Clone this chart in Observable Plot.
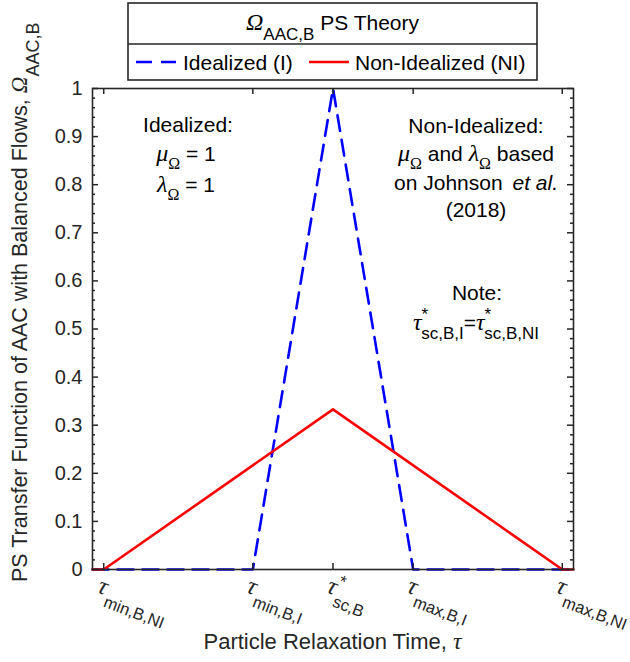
<!DOCTYPE html>
<html><head><meta charset="utf-8">
<script src="https://cdn.jsdelivr.net/npm/d3@7"></script>
<script src="https://cdn.jsdelivr.net/npm/@observablehq/plot@0.6"></script>
<style>html,body{margin:0;padding:0;background:#fff} svg{display:block}</style>
</head><body><div id="chart"></div>
<script>
// ---- data ----
const tauIdealized = [-3, -1, 0, 1, 3];
const omegaIdealized = [0, 0, 1, 0, 0];
const tauNonIdealized = [-3, -2.86, 0, 2.86, 3];
const omegaNonIdealized = [0, 0, 0.333, 0, 0];
const xTickValues = [-2.86, -1, 0, 1, 2.86];
const xTickSubs = ["min,B,NI", "min,B,I", "sc,B", "max,B,I", "max,B,NI"];
const xTickStar = [false, false, true, false, false];
const yTickValues = [0, 0.1, 0.2, 0.3, 0.4, 0.5, 0.6, 0.7, 0.8, 0.9, 1];
const yTickLabels = ["0", "0.1", "0.2", "0.3", "0.4", "0.5", "0.6", "0.7", "0.8", "0.9", "1"];
const yMinorTicks = d3.range(0, 1.0001, 0.02).filter(v => Math.abs(v * 10 - Math.round(v * 10)) > 1e-6);

const idealized = tauIdealized.map((t, i) => ({tau: t, omega: omegaIdealized[i]}));
const nonIdealized = tauNonIdealized.map((t, i) => ({tau: t, omega: omegaNonIdealized[i]}));

const W = 630, H = 662, ML = 92, MR = 57, MT = 88, MB = 93;
const PW = W - ML - MR, PH = H - MT - MB;
const AX = "#262626";
const SANS = "'Liberation Sans', Arial, Helvetica, sans-serif";
const SERIF = "'Liberation Serif', 'Times New Roman', serif";

const chart = Plot.plot({
  width: W, height: H,
  marginLeft: ML, marginRight: MR, marginTop: MT, marginBottom: MB,
  x: {domain: [-3, 3], axis: null},
  y: {domain: [0, 1], axis: null},
  style: {fontFamily: SANS, background: "#fff", color: AX, overflow: "visible"},
  marks: [
    Plot.line(idealized, {x: "tau", y: "omega", stroke: "#0000ff", strokeWidth: 2.6, strokeDasharray: "16,9"}),
    Plot.line(nonIdealized, {x: "tau", y: "omega", stroke: "#ff0000", strokeWidth: 2.6}),
    Plot.tickY(yMinorTicks, {y: d => d, stroke: AX, strokeWidth: 1.5, insetRight: PW - 3}),
    Plot.tickY(yMinorTicks, {y: d => d, stroke: AX, strokeWidth: 1.5, insetLeft: PW - 3}),
    Plot.tickY(yTickValues, {y: d => d, stroke: AX, strokeWidth: 1.5, insetRight: PW - 6}),
    Plot.tickY(yTickValues, {y: d => d, stroke: AX, strokeWidth: 1.5, insetLeft: PW - 6}),
    Plot.tickX(xTickValues, {x: d => d, stroke: AX, strokeWidth: 1.5, insetTop: PH - 6}),
    Plot.tickX(xTickValues, {x: d => d, stroke: AX, strokeWidth: 1.5, insetBottom: PH - 6}),
    Plot.frame({stroke: AX, strokeWidth: 1.6}),
    Plot.axisY(yTickValues, {tickSize: 0, tickPadding: 10, fontSize: 20, fill: AX, label: null,
      tickFormat: d => yTickLabels[yTickValues.indexOf(d)]})
  ]
});
document.getElementById("chart").append(chart);
const svg = d3.select(chart);
const sx = chart.scale("x");

function span(t, s, o) {
  const e = t.append("tspan").text(s)
    .attr("font-family", o.serif ? SERIF : SANS)
    .attr("font-size", o.size);
  if (o.italic) e.attr("font-style", "italic");
  if (o.dx) e.attr("dx", o.dx);
  if (o.dy) e.attr("dy", o.dy);
  return e;
}

// x tick labels (rotated 20 degrees clockwise)
xTickValues.forEach((v, i) => {
  const px = sx.apply(v);
  const g = svg.append("g").attr("transform", `translate(${px - 7},592)`);
  const t = g.append("text").attr("fill", AX).attr("text-anchor", "start")
    .attr("transform", "rotate(21)");
  span(t, "τ", {serif: true, italic: true, size: 25});
  if (xTickStar[i]) {
    span(t, "*", {size: 17, dy: -10});
    span(t, xTickSubs[i], {size: 16.5, dx: -5, dy: 21});
  } else {
    span(t, xTickSubs[i], {size: 16.5, dx: 2, dy: 11});
  }
});

// axis labels
{
  const t = svg.append("text").attr("fill", AX).attr("text-anchor", "middle")
    .attr("x", ML + PW / 2).attr("y", 649);
  span(t, "Particle Relaxation Time, ", {size: 22});
  span(t, "τ", {serif: true, italic: true, size: 24});
}
{
  const t = svg.append("text").attr("fill", AX).attr("text-anchor", "start")
    .attr("transform", "translate(27,582) rotate(-90)");
  span(t, "PS Transfer Function of AAC with Balanced Flows, ", {size: 21.5});
  span(t, "Ω", {serif: true, italic: true, size: 23});
  span(t, "AAC,B", {size: 18, dy: 12});
}

// legend
{
  const g = svg.append("g");
  g.append("rect").attr("x", 128).attr("y", 3).attr("width", 409).attr("height", 77)
    .attr("fill", "#fff").attr("stroke", AX).attr("stroke-width", 1.6);
  g.append("line").attr("x1", 128).attr("x2", 537).attr("y1", 44).attr("y2", 44)
    .attr("stroke", AX).attr("stroke-width", 1.6);
  const t = g.append("text").attr("fill", "#000").attr("text-anchor", "middle")
    .attr("x", 332.5).attr("y", 30);
  span(t, "Ω", {serif: true, italic: true, size: 24});
  span(t, "AAC,B", {size: 17, dy: 10});
  span(t, " PS Theory", {size: 21, dy: -10});
  g.append("line").attr("x1", 136).attr("x2", 176).attr("y1", 62).attr("y2", 62)
    .attr("stroke", "#0000ff").attr("stroke-width", 2.6).attr("stroke-dasharray", "16,9");
  g.append("text").attr("x", 183).attr("y", 69.5).attr("font-family", SANS).attr("font-size", 21)
    .attr("text-anchor", "start").attr("fill", "#000").text("Idealized (I)");
  g.append("line").attr("x1", 309).attr("x2", 349).attr("y1", 62).attr("y2", 62)
    .attr("stroke", "#ff0000").attr("stroke-width", 2.6);
  g.append("text").attr("x", 355).attr("y", 69.5).attr("font-family", SANS).attr("font-size", 21)
    .attr("text-anchor", "start").attr("fill", "#000").text("Non-Idealized (NI)");
}

// annotations
function line(x, y) {
  return svg.append("text").attr("fill", "#000").attr("text-anchor", "middle")
    .attr("x", x).attr("y", y).attr("font-family", SANS).attr("font-size", 21);
}
{
  span(line(188, 132), "Idealized:", {size: 21});
  let t = line(186, 161);
  span(t, "μ", {serif: true, italic: true, size: 24});
  span(t, "Ω", {serif: true, size: 16, dy: 8});
  span(t, " = 1", {size: 21, dy: -8});
  t = line(186, 192);
  span(t, "λ", {serif: true, italic: true, size: 24});
  span(t, "Ω", {serif: true, size: 16, dy: 8});
  span(t, " = 1", {size: 21, dy: -8});

  span(line(476, 133), "Non-Idealized:", {size: 21});
  t = line(476, 161);
  span(t, "μ", {serif: true, italic: true, size: 24});
  span(t, "Ω", {serif: true, size: 16, dy: 8});
  span(t, " and ", {size: 21, dy: -8});
  span(t, "λ", {serif: true, italic: true, size: 24});
  span(t, "Ω", {serif: true, size: 16, dy: 8});
  span(t, " based", {size: 21, dy: -8});
  t = line(476, 190);
  span(t, "on Johnson ", {size: 21});
  span(t, "et al.", {size: 21, italic: true, dx: 4});
  span(line(476, 217), "(2018)", {size: 21});

  span(line(477, 300), "Note:", {size: 21});
  t = line(476, 330);
  span(t, "τ", {serif: true, italic: true, size: 24});
  span(t, "*", {size: 17, dy: -10});
  span(t, "sc,B,I", {size: 17, dx: -7, dy: 19});
  span(t, "=", {size: 21, dy: -9});
  span(t, "τ", {serif: true, italic: true, size: 24});
  span(t, "*", {size: 17, dy: -10});
  span(t, "sc,B,NI", {size: 17, dx: -7, dy: 19});
}
</script>
</body></html>
